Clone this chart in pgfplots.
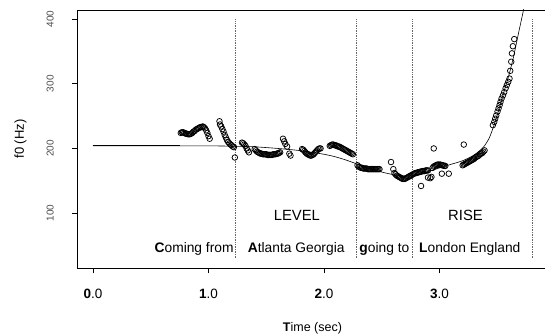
\documentclass[border=0pt]{standalone}
\usepackage{pgfplots}
\pgfplotsset{compat=1.18}
\usepackage{fontspec}
\setmainfont{Liberation Sans}
\begin{document}
\begin{tikzpicture}[font=\fontsize{13.8}{16}\selectfont]
\useasboundingbox (-77pt,-67pt) rectangle (468pt,268pt);
\begin{axis}[
  at={(0pt,0pt)}, anchor=south west,
  scale only axis, width=475pt, height=258pt,
  xmin=-0.1385, xmax=3.9738, ymin=15.2, ymax=414,
  axis x line*=box, axis y line*=left,
  axis line style={-, line width=0.9pt, black},
  xtick={0,1,2,3},
  xticklabels={\textbf{0}.0,\textbf{1}.0,\textbf{2}.0,\textbf{3}.0},
  xtick pos=bottom,
  ytick={100,200,300,400},
  tick align=outside,
  major tick length=5pt,
  tick style={line width=0.8pt, black},
  xticklabel style={anchor=north, inner sep=0pt, font=\fontsize{13.5}{16}\selectfont},
  xticklabel shift=16pt,
  yticklabel style={rotate=90, anchor=south, inner sep=0pt, font=\fontsize{10}{12}\selectfont, text=black!70},
  yticklabel shift=18pt,
  /pgf/number format/assume math mode=true,
  xlabel={\textbf{T}ime (sec)},
  xlabel style={at={([yshift=-63pt,xshift=-2pt]axis description cs:0.5,0)}, anchor=base, inner sep=0pt, font=\fontsize{12.5}{15}\selectfont},
  ylabel={f0 (Hz)},
  ylabel style={at={([xshift=-53pt]axis description cs:0,0.5)}, anchor=base, inner sep=0pt, font=\fontsize{13}{15}\selectfont},
]
% fitted contour
\addplot[black, line width=0.6pt, smooth, tension=0.4] coordinates {
(0,204) (0.5,204) (1.0,204) (1.2,203.5) (1.4,202.5) (1.6,200) (1.8,196.5) (2.0,191)
(2.1,187) (2.2,181.5) (2.3,175) (2.4,168.5) (2.5,163.5) (2.6,159.5) (2.7,157.2) (2.8,159)
(2.9,164) (3.0,170) (3.1,175.5) (3.2,181) (3.3,190) (3.38,202) (3.43,216) (3.47,235)
(3.51,258) (3.55,283) (3.60,313) (3.64,341) (3.68,375) (3.727,414) (3.76,445)};
\addplot[black, line width=1.1pt] coordinates {(0,204) (0.757,204)};
% segment boundaries
\addplot[black!60, densely dotted, line width=0.7pt] coordinates {(1.229,30.4) (1.229,400)};
\addplot[black!60, densely dotted, line width=0.7pt] coordinates {(2.276,30.4) (2.276,400)};
\addplot[black!60, densely dotted, line width=0.7pt] coordinates {(2.769,30.4) (2.769,400)};
\addplot[black!60, densely dotted, line width=0.7pt] coordinates {(3.801,30.4) (3.801,400)};
% f0 measurements
\addplot[only marks, mark=o, mark size=2.8pt, mark options={line width=0.75pt, black}] table {
t f
0.76 224
0.77 225
0.78 225
0.79 224
0.80 223
0.81 223
0.82 222
0.83 222
0.84 222
0.85 223
0.86 224
0.87 226
0.88 227
0.89 229
0.90 230
0.91 231
0.92 232
0.93 233
0.94 233
0.95 234
0.96 233
0.97 231
0.98 228
0.99 224
1.00 219
1.01 215
1.095 242
1.10 237
1.11 234
1.12 230
1.13 226
1.14 221
1.15 217
1.16 213
1.17 210
1.18 208
1.19 206
1.20 205
1.21 203
1.22 202
1.228 186
1.29 209
1.30 208
1.31 206
1.32 204
1.33 200
1.34 197
1.35 194
1.40 199
1.41 197
1.42 195
1.43 194
1.44 193
1.45 192
1.46 192
1.47 191
1.48 191
1.49 191
1.50 191
1.51 190
1.52 190
1.53 190
1.54 190
1.55 190
1.56 191
1.57 191
1.58 191
1.59 192
1.60 192
1.61 193
1.62 194
1.645 215
1.655 211
1.665 207
1.68 203
1.70 192
1.71 189
1.81 199
1.82 198
1.83 196
1.84 194
1.85 192
1.86 191
1.87 190
1.88 189
1.89 189
1.90 190
1.91 191
1.92 193
1.93 195
1.94 197
1.95 199
1.96 200
1.97 200
2.05 204
2.06 205
2.07 206
2.08 206
2.09 205
2.10 205
2.11 204
2.12 203
2.13 203
2.14 202
2.15 201
2.16 200
2.17 199
2.18 198
2.19 197
2.20 196
2.21 195
2.22 194
2.23 193
2.24 192
2.25 191
2.29 174
2.30 172
2.31 171
2.32 170
2.33 170
2.34 169
2.35 169
2.36 169
2.37 169
2.38 168
2.39 168
2.40 168
2.41 168
2.42 168
2.43 168
2.44 168
2.45 168
2.46 168
2.47 168
2.48 168
2.58 179
2.60 168
2.61 162
2.62 160
2.63 158
2.64 157
2.65 156
2.66 155
2.67 154
2.68 153
2.69 153
2.70 153
2.71 154
2.72 155
2.73 156
2.74 157
2.75 158
2.76 159
2.77 160
2.78 161
2.79 162
2.80 162
2.81 163
2.82 163
2.83 164
2.84 164
2.85 165
2.86 165
2.87 165
2.88 166
2.89 166
2.90 166
2.90 155
2.92 154
2.84 142
2.94 170
2.95 172
2.96 173
2.97 174
2.98 175
2.99 175
3.00 175
3.01 175
3.02 174
3.03 174
3.04 173
3.05 173
2.93 156
3.02 161
3.08 161
2.95 200
3.21 206
3.20 174
3.21 175
3.22 176
3.23 177
3.24 178
3.25 179
3.26 180
3.27 181
3.28 182
3.29 183
3.30 184
3.31 186
3.32 187
3.33 188
3.34 189
3.35 191
3.36 192
3.37 193
3.38 195
3.39 197
3.462 236
3.474 241
3.482 246
3.491 251
3.502 257
3.511 262
3.520 267
3.528 272
3.537 277
3.549 282
3.560 287
3.572 293
3.583 298
3.595 303
3.606 308
3.612 320
3.621 334
3.627 347
3.635 358
3.647 369
};
% annotations
\node[anchor=base east, inner sep=0pt] at (axis cs:1.219,39.9) {\textbf{C}oming from};
\node[anchor=base west, inner sep=0pt] at (axis cs:1.339,39.9) {\textbf{A}tlanta Georgia};
\node[anchor=base west, inner sep=0pt] at (axis cs:2.305,39.9) {\textbf{g}oing to};
\node[anchor=base west, inner sep=0pt] at (axis cs:2.822,39.9) {\textbf{L}ondon England};
\node[anchor=base, inner sep=0pt, font=\fontsize{14.8}{17}\selectfont] at (axis cs:1.765,89.2) {LEVEL};
\node[anchor=base, inner sep=0pt, font=\fontsize{14.8}{17}\selectfont] at (axis cs:3.225,89.2) {RISE};
\end{axis}
\end{tikzpicture}
\end{document}
